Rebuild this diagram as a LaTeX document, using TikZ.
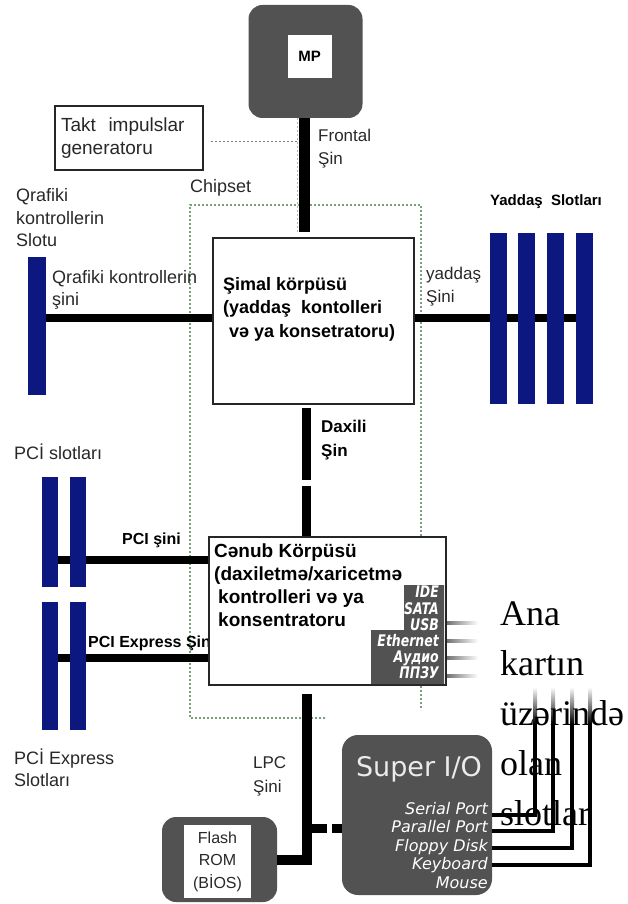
\documentclass[tikz,border=0pt]{standalone}
\usepackage{fontspec}
\setmainfont{Liberation Sans}
\newfontfamily\serifx{Liberation Serif}
\newfontfamily\dvs{DejaVu Sans}
\newfontfamily\dvc[FakeStretch=0.78]{DejaVu Sans}
\usetikzlibrary{calc}
\definecolor{darkbox}{RGB}{82,82,82}
\definecolor{slotblue}{RGB}{12,24,128}
\definecolor{chipgreen}{RGB}{120,160,120}
\definecolor{txt}{RGB}{40,40,40}
\pgfdeclarelayer{bg}
\pgfsetlayers{bg,main}
\begin{document}
\begin{tikzpicture}[x=1pt,y=-1pt,
  darkrnd/.style={draw=none, fill=darkbox, rounded corners=14pt, inner sep=0},
  whitebox/.style={draw=black!85, line width=1.2pt, fill=white, inner sep=0},
  bus/.style={line width=8pt, black},
  slot/.style={fill=slotblue, draw=none, inner sep=0},
  lbl/.style={inner sep=0, anchor=west, align=left, text=txt, font=\fontsize{18}{22.5}\selectfont},
  blbl/.style={inner sep=0, anchor=west, align=left, text=black, font=\bfseries\fontsize{16}{20}\selectfont},
  chipline/.style={draw=chipgreen, line width=1.2pt, dash pattern=on 2pt off 2pt},
  wire/.style={line width=4pt, black},
  fadewire/.style={top color=white, bottom color=black},
]
\useasboundingbox (0,0) rectangle (628,904);

% ---------- processor ----------
\node[darkrnd, minimum width=114pt, minimum height=113pt] (mp) at (305.5,61.5) {};
\node[fill=white, inner sep=0, minimum width=44pt, minimum height=43pt,
      font=\bfseries\fontsize{15}{15}\selectfont] (mpl) at (309.5,56.5) {MP};

% ---------- clock generator ----------
\node[whitebox, minimum width=148pt, minimum height=64pt, text width=136pt,
      align=left, text=txt, font=\fontsize{19}{23}\selectfont] (tk) at (129,138)
      {Takt\ \ impulslar\\generatoru};

% ---------- chipset labels ----------
\node[lbl] (chip) at (190,188) {Chipset};
\node[lbl, font=\fontsize{17}{23}\selectfont] (front) at (318,149) {Frontal\\Şin};

% ---------- north bridge ----------
\node[whitebox, minimum width=201pt, minimum height=166pt] (nb) at (313.5,321) {};
\node[inner sep=0, anchor=north west, align=left, text=black,
      font=\bfseries\fontsize{18}{23.5}\selectfont] (nbt) at (223,277)
      {Şimal körpüsü\\(yaddaş\ \ kontolleri\\\hspace*{6pt}və ya konsetratoru)};

% ---------- graphics slot ----------
\node[slot, minimum width=18pt, minimum height=138pt] (gslot) at (37,326) {};
\node[lbl] (gslotl) at (16,218) {Qrafiki\\kontrollerin\\Slotu};
\node[lbl] (gbusl) at (52,290) {Qrafiki kontrollerin\\şini};

% ---------- memory slots ----------
\node[slot, minimum width=17pt, minimum height=171pt] (m1) at (498.5,318.5) {};
\node[slot, minimum width=17pt, minimum height=171pt] (m2) at (526.5,318.5) {};
\node[slot, minimum width=17pt, minimum height=171pt] (m3) at (555.5,318.5) {};
\node[slot, minimum width=17pt, minimum height=171pt] (m4) at (584,318.5) {};
\node[blbl, font=\bfseries\fontsize{15}{18}\selectfont] (ml) at (490,202) {Yaddaş\ \ Slotları};
\node[lbl, font=\fontsize{17}{23}\selectfont] (mbusl) at (426,287) {yaddaş\\Şini};

% ---------- internal bus label ----------
\node[blbl, font=\bfseries\fontsize{17}{24}\selectfont] (dxl) at (321,440) {Daxili\\Şin};

% ---------- PCI slots ----------
\node[lbl] (pcil) at (14,452) {PCİ slotları};
\node[slot, minimum width=16pt, minimum height=110pt] (p1) at (50,532) {};
\node[slot, minimum width=16pt, minimum height=110pt] (p2) at (78,532) {};
\node[slot, minimum width=16pt, minimum height=128pt] (e1) at (50,666) {};
\node[slot, minimum width=16pt, minimum height=128pt] (e2) at (78,666) {};
\node[blbl] (pcibl) at (122,540) {PCI şini};
\node[blbl] (pcieb) at (88,643) {PCI Express Şin};
\node[lbl] (pciel) at (14,768) {PCİ Express\\Slotları};

% ---------- south bridge ----------
\node[whitebox, minimum width=237pt, minimum height=148pt] (sb) at (327.5,611) {};
\node[inner sep=0, anchor=north west, align=left, text=black,
      font=\bfseries\fontsize{19}{23}\selectfont] (sbt) at (214,544)
      {Cənub Körpüsü\\(daxiletmə/xaricetmə\\\hspace*{4pt}kontrolleri və ya\\\hspace*{4pt}konsentratoru};
\fill[darkbox] (404,585) -- (444,585) -- (444,684) -- (371,684) -- (371,630) -- (404,630) -- cycle;
\node[inner sep=0, anchor=north east, align=right, text=white,
      font=\dvc\bfseries\itshape\fontsize{16}{16.2}\selectfont] (sbl) at (439,586)
      {IDE\\SATA\\USB\\Ethernet\\Аудио\\ППЗУ};
\foreach \yy in {623,641,658,676}
  \shade[left color=black!55, right color=white] (447,\yy-1.8) rectangle (478,\yy+1.8);

% ---------- LPC / Flash / Super I/O ----------
\node[lbl, font=\fontsize{17}{24}\selectfont] (lpcl) at (253,776) {LPC\\Şini};
\node[darkrnd, minimum width=115pt, minimum height=85pt] (flash) at (219.5,859.5) {};
\node[fill=white, inner sep=0, minimum width=67pt, minimum height=73pt, align=center,
      text=txt, font=\fontsize{16}{22.5}\selectfont] (flashl) at (217.5,861.5) {Flash\\ROM\\(BİOS)};
\node[darkrnd, rounded corners=16pt, minimum width=150pt, minimum height=160pt] (sio) at (417,815) {};
\node[inner sep=0, text=black!8, font=\dvs\fontsize{27}{27}\selectfont] (siot) at (419,769) {Super I/O};
\node[inner sep=0, anchor=north east, align=right, text=white,
      font=\dvs\itshape\fontsize{16}{18.5}\selectfont] (siol) at (488,802)
      {Serial Port\\Parallel Port\\Floppy Disk\\Keyboard\\Mouse};

% wires from super I/O
\coordinate (w1) at (535,723);
\coordinate (w2) at (553,723);
\coordinate (w3) at (572,723);
\coordinate (w4) at (590,723);
\draw[wire] (sio.east |- 0,815) -- (w1 |- 0,815) -- (w1);
\draw[wire] (sio.east |- 0,831) -- (w2 |- 0,831) -- (w2);
\draw[wire] (sio.east |- 0,848) -- (w3 |- 0,848) -- (w3);
\draw[wire] (sio.east |- 0,865) -- (w4 |- 0,865) -- (w4);
\foreach \w in {w1,w2,w3,w4}
  \shade[fadewire] ($(\w)+(-2,-36)$) rectangle ($(\w)+(2,0.5)$);

% ---------- buses (under slots / boxes) ----------
\begin{pgfonlayer}{bg}
  \draw[chipline] (325,718) -- (190,718) -- (190,205) -- (421,205) -- (421,710);
  \draw[bus] (gslot.east |- 0,318) -- (nb.west |- 0,318);
  \draw[bus] (nb.east |- 0,318) -- (m4.center |- 0,318);
  \draw[bus] (p1.west |- 0,560) -- (sb.west |- 0,560);
  \draw[bus] (e1.west |- 0,658) -- (sb.west |- 0,658);
\end{pgfonlayer}

% front side bus
\draw[line width=11pt] (mp.south -| 304.5,0) -- (304.5,232);
\draw[gray, line width=1pt, dash pattern=on 2pt off 2pt] (tk.east -| 211,0) ++(0,4) -- (297,142);
\draw[gray!60, line width=1pt, dash pattern=on 2pt off 2pt] (297,118) -- (297,232);

% internal bus
\coordinate (ibx) at (306.5,0);
\draw[line width=9pt] (ibx |- nb.south) ++(0,3) -- (306.5,480);
\draw[line width=9pt] (306.5,486) -- (ibx |- sb.north) ++(0,-10);

% LPC bus
\coordinate (lpcx) at (307,0);
\draw[line width=10pt] (lpcx |- sb.south) ++(0,8) -- (lpcx |- flash.east) -- (flash.east);
\draw[line width=9pt, dash pattern=on 15pt off 5pt] (312,828) -- (sio.west |- 0,828);

% ---------- right-hand label ----------
\node[inner sep=0, anchor=north west, align=left, text=black,
      font=\serifx\fontsize{36}{50}\selectfont] (anal) at (500,602)
      {Ana\\kartın\\üzərində\\olan\\slotlar};
\end{tikzpicture}
\end{document}
